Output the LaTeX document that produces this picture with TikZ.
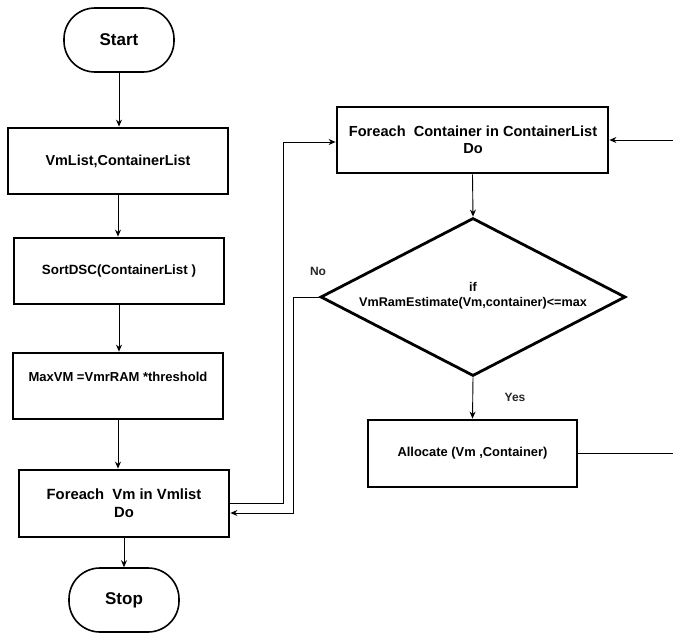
\documentclass[tikz,border=0pt]{standalone}
\usepackage{fontspec}
\setmainfont{Liberation Sans}
\usetikzlibrary{arrows.meta,shapes.geometric}
\begin{document}
\begin{tikzpicture}[x=1pt,y=-1pt,
  box/.style={draw, line width=2.8pt, minimum width=#1, inner sep=0pt},
  term/.style={draw, line width=1.6pt, rounded corners=31pt, minimum width=110pt, minimum height=64pt, font=\bfseries\fontsize{17}{20}\selectfont},
  conn/.style={line width=0.9pt, -{Stealth[length=7pt,width=6pt]}},
  lbl/.style={font=\bfseries\fontsize{12}{14}\selectfont, text=black!85},
]
\useasboundingbox (0,0) rectangle (673,637);
\node[term] (start) at (119,40) {Start};
\node[box=220pt, minimum height=66pt, font=\bfseries\fontsize{14.4}{16}\selectfont] (b1) at (118,161) {VmList,ContainerList};
\node[box=210pt, minimum height=66pt, font=\bfseries\fontsize{13.4}{15}\selectfont] (b2) at (119,271) {SortDSC(ContainerList )};
\node[box=210pt, minimum height=66pt] (b3) at (118,386) {};
\node[font=\bfseries\fontsize{13}{14}\selectfont] at (118,377) {MaxVM =VmrRAM *threshold};
\node[box=210pt, minimum height=67pt, align=center, font=\bfseries\fontsize{14.8}{18}\selectfont] (b4) at (124,503.5) {Foreach\ \ Vm in Vmlist\\Do};
\node[term] (stop) at (124,600) {Stop};

\node[box=271pt, minimum height=66pt] (b5) at (472.5,140) {};
\node[align=center, font=\bfseries\fontsize{14.6}{17}\selectfont] at (473,139.5) {Foreach\ \ Container in ContainerList\\Do};
\node[diamond, draw, line width=2.8pt, minimum width=305pt, minimum height=158pt, inner sep=0pt, aspect=1.93] (d) at (473,297) {};
\node[align=center, font=\bfseries\fontsize{12.6}{15}\selectfont] at (473,296) {if\\VmRamEstimate(Vm,container)<=max};
\node[box=209pt, minimum height=67pt, font=\bfseries\fontsize{12.9}{14}\selectfont] (al) at (472.5,453.5) {Allocate (Vm ,Container)};

\draw[conn] (start) -- (start |- b1.north);
\draw[conn] (b1.south) -- (b1.south |- b2.north);
\draw[conn] (b2.south) -- (b2.south |- b3.north);
\draw[conn] (b3.south) -- (b3.south |- b4.north);
\draw[conn] (b4.south -| stop) -- (stop.north);
\draw[conn] (b5.south) -- (d.north);
\draw[conn] (d.south) -- (al.north);
\node[lbl] at (515,397) {Yes};
\node[lbl] at (318,271) {No};
\draw[conn] (b4.east |- 0,503) -- (283,503) -- (283,142) -- (b5.west |- 0,142);
\draw[conn] (d.west) -- (293,297) -- (293,513) -- (b4.east |- 0,513);
\draw[conn] (al.east) -- (690,453.5) -- (690,140) -- (b5.east);
\end{tikzpicture}
\end{document}
